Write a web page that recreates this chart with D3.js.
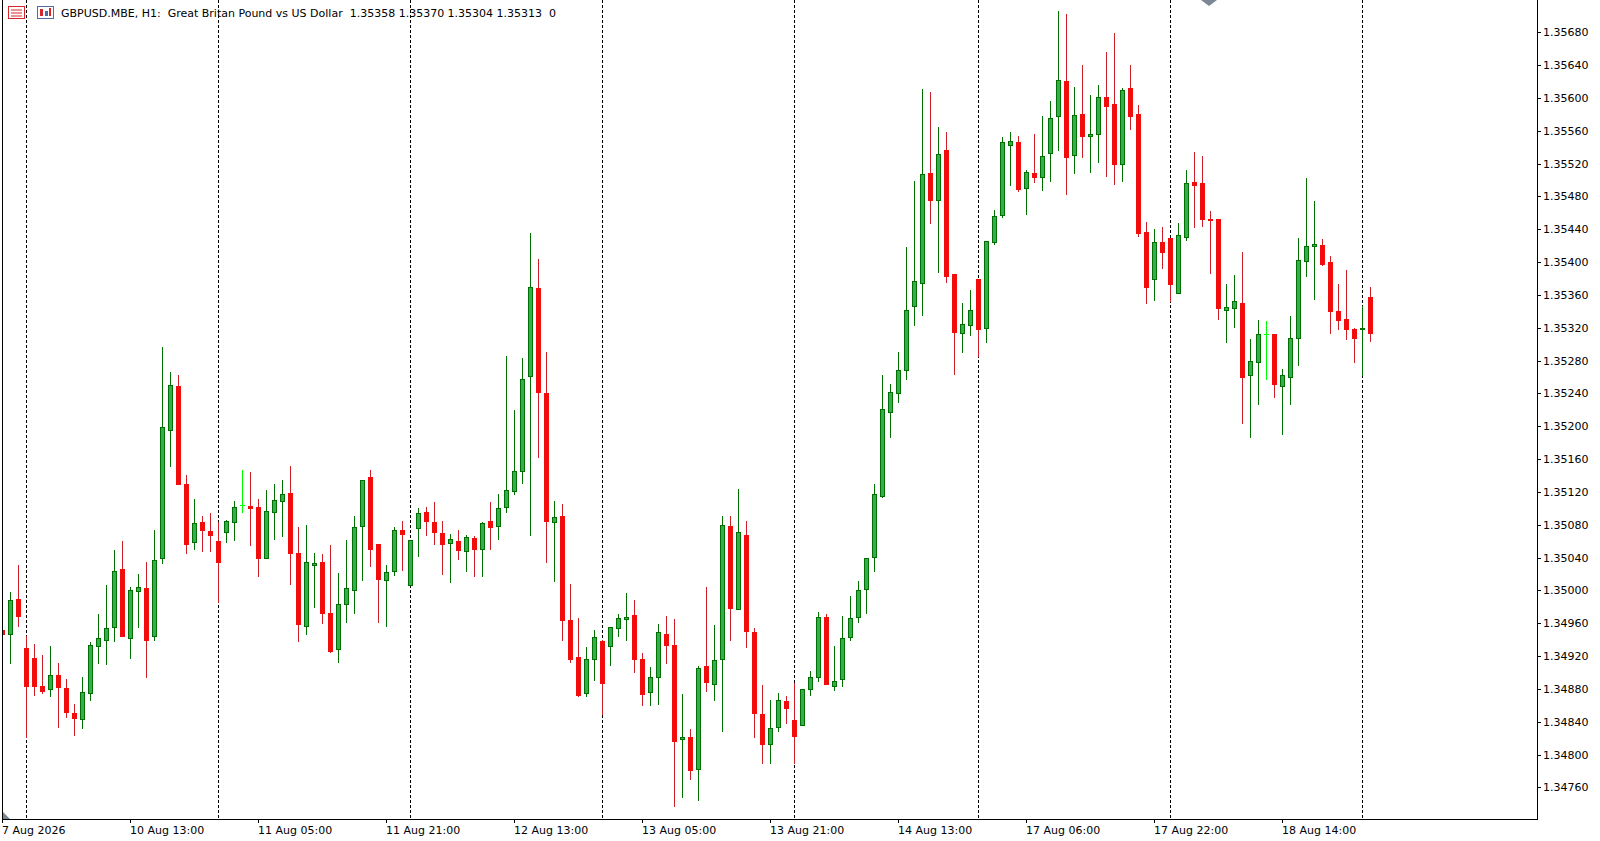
<!DOCTYPE html>
<html>
<head>
<meta charset="utf-8">
<script src="https://cdn.jsdelivr.net/npm/d3@7/dist/d3.min.js"></script>
<style>
  html, body { margin: 0; padding: 0; background: #fff; }
  svg { display: block; }
  text { font-family: "DejaVu Sans", sans-serif; font-size: 11px; fill: #000; }
</style>
</head>
<body>
<svg id="chart"></svg>
<script>
// GBPUSD H1 candles, prices in points (1 point = 0.00001)
// bar index 0 = 10 Aug 00:00, first visible bar is index -3 (7 Aug)
var firstBar = -3;

var opens = [
  134952,134947,134989,
  134930,134918,134884,134880,134897,134881,134851,134843,134875,134932,134940,134955,
  135026,134942,134999,135003,134944,135039,135196,135249,135130,135059,135083,135072,
  135060,135071,135083,135104,135103,135102,135040,135096,135109,135119,135046,134957,
  135031,135035,134972,134928,134984,135001,135078,135138,135057,135013,135024,135074,
  135006,135076,135095,135083,135070,135058,135060,135048,135064,135051,135084,135078,
  135101,135121,135146,135261,135368,135241,135083,135091,134964,134919,134875,134916,
  134938,134932,134954,134965,134970,134917,134876,134894,134947,134933,134819,134821,
  134782,134908,134886,134916,135079,134977,135068,134949,134850,134813,134834,134865,
  134842,134836,134880,134895,134968,134884,134892,134943,134967,135002,135041,135115,
  135217,135240,135269,135346,135374,135509,135476,135536,135385,135314,135323,
  135379,135320,135424,135457,135543,135546,135490,135509,135503,135533,135578,135621,
  135530,135580,135554,135556,135601,135592,135519,135612,135580,135436,135379,135425,
  135429,135362,135431,135498,135496,135452,135452,135342,135344,135350,135262,135278,
  135312,135312,135249,135260,135307,135401,135420,135421,135400,135340,135331,135319,
  135318,135358
];
var highs = [
  134962,134998,135031,
  134945,134935,134921,134932,134912,134892,134862,134895,134937,134971,135007,135049,
  135060,135004,135020,135035,135074,135297,135266,135262,135141,135111,135091,135094,
  135083,135086,135109,135147,135144,135111,135122,135130,135135,135152,135077,135080,
  135046,135044,135055,135021,135061,135091,135134,135147,135057,135031,135077,135085,
  135061,135100,135102,135108,135085,135069,135074,135068,135066,135083,135108,135118,
  135286,135220,135283,135435,135404,135290,135109,135105,135008,134966,134931,134952,
  134940,134955,134971,134997,134988,134924,134907,134959,134969,134965,134874,134831,
  134908,135004,134958,135091,135091,135124,135085,134954,134885,134866,134875,134871,
  134887,134880,134902,134974,134971,134932,134969,134993,135012,135040,135130,135262,
  135251,135290,135418,135499,135611,135607,135565,135558,135386,135350,135366,
  135379,135426,135464,135552,135558,135554,135512,135556,135578,135596,135706,135702,
  135613,135640,135603,135616,135656,135679,135612,135640,135591,135449,135440,135443,
  135429,135447,135512,135534,135529,135462,135452,135373,135384,135412,135306,135329,
  135328,135312,135270,135334,135429,135502,135474,135428,135407,135373,135390,135320,
  135346,135370
];
var lows = [
  134940,134911,134957,
  134821,134873,134875,134871,134834,134846,134824,134832,134866,134911,134910,134938,
  134945,134918,134955,134895,134940,135033,135151,135129,135045,135050,135048,135048,
  134986,135059,135061,135096,135055,135018,135040,135063,135066,135008,134938,134947,
  134980,134960,134925,134913,134962,134973,135013,135030,134962,134957,135019,135025,
  135006,135042,135068,135057,135020,135010,135038,135024,135018,135018,135051,135062,
  135095,135117,135131,135067,135162,135034,135012,134939,134913,134871,134871,134891,
  134850,134909,134944,134939,134901,134860,134860,134861,134911,134737,134748,134770,
  134745,134878,134867,134829,134940,134977,134931,134822,134790,134790,134829,134839,
  134790,134836,134872,134890,134886,134879,134883,134939,134962,134973,135024,135114,
  135187,135230,135258,135323,135335,135447,135388,135376,135264,135290,135311,
  135285,135302,135422,135455,135494,135487,135458,135498,135488,135499,135536,135483,
  135508,135528,135510,135522,135505,135495,135499,135562,135432,135350,135354,135393,
  135352,135362,135427,135443,135444,135387,135331,135302,135321,135204,135187,135227,
  135257,135235,135190,135227,135275,135383,135355,135396,135314,135318,135306,135278,
  135262,135304
];
var closes = [
  134947,134988,134969,
  134883,134884,134878,134897,134882,134852,134844,134876,134933,134942,134954,135024,
  134945,135000,135004,134940,135037,135199,135250,135129,135057,135082,135073,135068,
  135034,135084,135101,135104,135100,135039,135097,135110,135117,135045,134959,135034,
  135033,134973,134926,134984,135003,135077,135134,135050,135014,135023,135073,135069,
  135061,135094,135085,135071,135056,135062,135049,135065,135051,135082,135077,135100,
  135122,135145,135258,135369,135242,135084,135089,134964,134917,134873,134917,134943,
  134887,134955,134966,134968,134916,134874,134895,134949,134934,134816,134822,134781,
  134906,134888,134915,135080,134978,135071,134950,134851,134813,134832,134866,134857,
  134823,134880,134894,134968,134886,134890,134942,134966,135001,135040,135117,135221,
  135242,135268,135342,135377,135507,135475,135532,135383,135315,135324,135341,
  135319,135426,135456,135546,135547,135489,135510,135504,135529,135576,135622,135528,
  135579,135553,135556,135601,135590,135520,135610,135578,135435,135370,135424,135412,
  135373,135433,135496,135494,135453,135451,135344,135345,135352,135260,135279,135312,
  135312,135251,135263,135308,135402,135419,135422,135398,135340,135330,135318,135307,
  135320,135313
];

// first bar of each day (period separators)
var daySeparators = [0, 24, 48, 72, 96, 119, 143, 167];

var timeTickBars = [-3, 13, 29, 45, 61, 77, 93, 109, 125, 141, 157];
var timeTickLabels = ["7 Aug 2026", "10 Aug 13:00", "11 Aug 05:00", "11 Aug 21:00",
  "12 Aug 13:00", "13 Aug 05:00", "13 Aug 21:00", "14 Aug 13:00",
  "17 Aug 06:00", "17 Aug 22:00", "18 Aug 14:00"];

var priceTicks = [1.34760, 1.34800, 1.34840, 1.34880, 1.34920, 1.34960, 1.35000, 1.35040,
  1.35080, 1.35120, 1.35160, 1.35200, 1.35240, 1.35280, 1.35320, 1.35360,
  1.35400, 1.35440, 1.35480, 1.35520, 1.35560, 1.35600, 1.35640, 1.35680];

var headerText = "GBPUSD.MBE, H1:  Great Britan Pound vs US Dollar  1.35358 1.35370 1.35304 1.35313  0";

var width = 1600;
var height = 841;
var plotLeft = 2;
var plotRight = 1537;
var plotBottom = 819;

var bullFill = "#35ae4f", bullLine = "#007000";
var bearFill = "#f20c0c", bearWick = "#d0202a";
var dojiColor = "#00ff00";

var bars = opens.map(function(o, k) {
  return { i: firstBar + k, o: o / 1e5, h: highs[k] / 1e5, l: lows[k] / 1e5, c: closes[k] / 1e5 };
});

var xScale = d3.scaleLinear()
  .domain([0, 1])
  .rangeRound([26, 34]);

var yScale = d3.scaleLinear()
  .domain([1.34760, 1.35680])
  .rangeRound([787.4, 32.2]);

var svg = d3.select("#chart")
  .attr("width", width)
  .attr("height", height);

svg.append("defs").append("clipPath")
  .attr("id", "plot-clip")
  .append("rect")
  .attr("x", plotLeft + 1)
  .attr("y", 0)
  .attr("width", plotRight - plotLeft - 1)
  .attr("height", plotBottom);

// day separators
svg.append("g")
  .attr("clip-path", "url(#plot-clip)")
  .selectAll("line")
  .data(daySeparators)
  .enter()
  .append("line")
  .attr("x1", function(d) { return xScale(d) + 0.5; })
  .attr("x2", function(d) { return xScale(d) + 0.5; })
  .attr("y1", 0)
  .attr("y2", plotBottom)
  .attr("stroke", "#000")
  .attr("stroke-dasharray", "3,2");

// candles
var candles = svg.append("g")
  .attr("clip-path", "url(#plot-clip)")
  .selectAll("g")
  .data(bars)
  .enter()
  .append("g");

function kind(d) {
  if (Math.round(d.o * 1e5) === Math.round(d.c * 1e5)) return "doji";
  return d.c > d.o ? "bull" : "bear";
}

candles.append("line")
  .attr("x1", function(d) { return xScale(d.i) + 0.5; })
  .attr("x2", function(d) { return xScale(d.i) + 0.5; })
  .attr("y1", function(d) { return yScale(d.h); })
  .attr("y2", function(d) { return yScale(d.l) + 1; })
  .attr("stroke", function(d) {
    var k = kind(d);
    return k === "doji" ? dojiColor : (k === "bull" ? bullLine : bearWick);
  });

candles.each(function(d) {
  var g = d3.select(this);
  var k = kind(d);
  var cx = xScale(d.i) + 0.5;
  var top = yScale(Math.max(d.o, d.c));
  var bot = yScale(Math.min(d.o, d.c));
  var col = k === "doji" ? dojiColor : (k === "bull" ? bullLine : bearFill);
  if (bot - top < 1) {
    g.append("line")
      .attr("x1", cx - 2.5).attr("x2", cx + 2.5)
      .attr("y1", top + 0.5).attr("y2", top + 0.5)
      .attr("stroke", col);
  } else {
    g.append("rect")
      .attr("x", cx - 2)
      .attr("y", top + 0.5)
      .attr("width", 4)
      .attr("height", bot - top)
      .attr("fill", k === "bull" ? bullFill : bearFill)
      .attr("stroke", col);
  }
});

// frame
svg.append("line")
  .attr("x1", plotLeft + 0.5).attr("x2", plotLeft + 0.5)
  .attr("y1", 0).attr("y2", plotBottom + 1)
  .attr("stroke", "#000");
svg.append("line")
  .attr("x1", plotLeft).attr("x2", plotRight + 1)
  .attr("y1", plotBottom + 0.5).attr("y2", plotBottom + 0.5)
  .attr("stroke", "#000");
svg.append("line")
  .attr("x1", plotRight + 0.5).attr("x2", plotRight + 0.5)
  .attr("y1", 0).attr("y2", plotBottom + 1)
  .attr("stroke", "#000");

// price axis
var yAxis = d3.axisRight(yScale)
  .tickValues(priceTicks)
  .tickFormat(d3.format(".5f"))
  .tickSize(4)
  .tickSizeOuter(0)
  .tickPadding(2);

var gy = svg.append("g")
  .attr("transform", "translate(" + plotRight + ",0)")
  .call(yAxis);
gy.select(".domain").remove();
gy.attr("font-family", "DejaVu Sans").attr("font-size", 11);
gy.selectAll(".tick line").attr("stroke", "#000");
gy.selectAll(".tick text").attr("fill", "#000");

// time axis
var xAxis = d3.axisBottom(xScale)
  .tickValues(timeTickBars)
  .tickFormat(function(d, k) { return timeTickLabels[k]; })
  .tickSize(4)
  .tickSizeOuter(0)
  .tickPadding(3);

var gx = svg.append("g")
  .attr("transform", "translate(0," + plotBottom + ")")
  .call(xAxis);
gx.select(".domain").remove();
gx.attr("font-family", "DejaVu Sans").attr("font-size", 11);
gx.selectAll(".tick line").attr("stroke", "#000");
gx.selectAll(".tick text")
  .attr("fill", "#000")
  .attr("text-anchor", "start")
  .attr("x", -0.5);

// small grey markers (scale fix corner, chart shift)
svg.append("path")
  .attr("d", "M3,812 L3,819 L10,819 Z")
  .attr("fill", "#7b8794");
svg.append("path")
  .attr("d", "M1201,0 L1217,0 L1209,6 Z")
  .attr("fill", "#7b8794");

// header icons
var icons = svg.append("g");
icons.append("rect").attr("x", 8.5).attr("y", 6.5).attr("width", 16).attr("height", 12)
  .attr("fill", "#fff").attr("stroke", "#d9262b");
[9.5, 12.5, 15.5].forEach(function(yy) {
  icons.append("line").attr("x1", 11).attr("x2", 22).attr("y1", yy + 0.5).attr("y2", yy + 0.5)
    .attr("stroke", "#d9262b");
});
icons.append("rect").attr("x", 37.5).attr("y", 6.5).attr("width", 16).attr("height", 12)
  .attr("fill", "#fff").attr("stroke", "#4a6fa5");
icons.append("rect").attr("x", 40).attr("y", 9).attr("width", 3).attr("height", 7).attr("fill", "#d9262b");
icons.append("rect").attr("x", 45).attr("y", 11).attr("width", 3).attr("height", 5).attr("fill", "#4a6fa5");
icons.append("rect").attr("x", 49).attr("y", 8).attr("width", 2).attr("height", 8).attr("fill", "#d9262b");

svg.append("text")
  .attr("x", 61)
  .attr("y", 17)
  .style("white-space", "pre")
  .text(headerText);
</script>
</body>
</html>
